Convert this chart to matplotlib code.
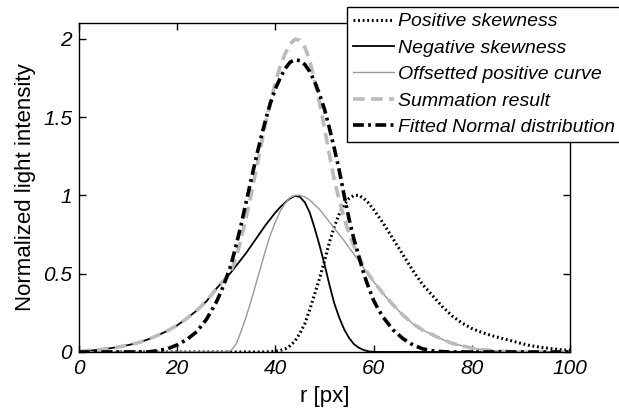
import numpy as np
import matplotlib.pyplot as plt

plt.rcParams['font.family'] = ['Liberation Sans', 'DejaVu Sans']

# =========================
# Datos
# =========================
r = [0, 2, 4, 6, 8, 10, 12, 14, 16, 18, 20, 22, 24, 26,
     28, 29, 30, 31, 32, 33, 34, 35, 36, 37, 38, 39, 40, 41, 42, 43, 44, 45,
     46, 47, 48, 49, 50, 51, 52, 53, 54, 55, 56, 57, 58, 59, 60, 61, 62,
     64, 66, 68, 70, 72, 74, 76, 78, 80, 82, 84, 86, 88, 90, 92, 94, 96, 98, 100]

pos_skew = [0, 0, 0, 0, 0, 0, 0, 0, 0, 0, 0, 0, 0, 0,
            0, 0, 0, 0, 0, 0, 0, 0, 0, 0, 0, 0.002, 0.005, 0.01, 0.02, 0.04, 0.07, 0.12,
            0.18, 0.27, 0.37, 0.47, 0.58, 0.70, 0.80, 0.88, 0.94, 0.98, 1.0, 1.0, 0.98, 0.95, 0.91, 0.865, 0.82,
            0.72, 0.62, 0.52, 0.43, 0.36, 0.29, 0.23, 0.185, 0.15, 0.125, 0.105, 0.088, 0.072, 0.055, 0.04, 0.03, 0.022, 0.015, 0.01]

neg_skew = [0.004, 0.008, 0.014, 0.022, 0.032, 0.044, 0.058, 0.08, 0.105, 0.135, 0.17, 0.215, 0.265, 0.325,
            0.405, 0.44, 0.475, 0.51, 0.55, 0.59, 0.63, 0.675, 0.72, 0.765, 0.81, 0.85, 0.89, 0.925, 0.955, 0.98, 0.997, 0.99,
            0.955, 0.89, 0.79, 0.68, 0.56, 0.43, 0.31, 0.22, 0.145, 0.09, 0.05, 0.027, 0.012, 0.004, 0.001, 0, 0,
            0, 0, 0, 0, 0, 0, 0, 0, 0, 0, 0, 0, 0, 0, 0, 0, 0, 0, 0]

offset_pos = [0, 0, 0, 0, 0, 0, 0, 0, 0, 0, 0, 0, 0, 0,
              0, 0, 0, 0.01, 0.05, 0.13, 0.22, 0.32, 0.43, 0.54, 0.65, 0.75, 0.83, 0.90, 0.95, 0.985, 1.0, 1.0,
              0.99, 0.97, 0.94, 0.91, 0.87, 0.83, 0.79, 0.75, 0.71, 0.665, 0.625, 0.58, 0.535, 0.49, 0.45, 0.41, 0.37,
              0.30, 0.235, 0.18, 0.14, 0.11, 0.08, 0.055, 0.04, 0.025, 0.015, 0.009, 0.005, 0.003, 0, 0, 0, 0, 0, 0]

summation = [0.004, 0.008, 0.014, 0.022, 0.032, 0.044, 0.058, 0.08, 0.105, 0.135, 0.17, 0.215, 0.265, 0.325,
             0.405, 0.44, 0.475, 0.52, 0.60, 0.72, 0.85, 0.995, 1.15, 1.305, 1.46, 1.60, 1.72, 1.825, 1.905, 1.965, 1.997, 1.99,
             1.945, 1.86, 1.73, 1.59, 1.43, 1.26, 1.10, 0.97, 0.855, 0.755, 0.675, 0.607, 0.547, 0.494, 0.451, 0.41, 0.37,
             0.30, 0.235, 0.18, 0.14, 0.11, 0.08, 0.055, 0.04, 0.025, 0.015, 0.009, 0.005, 0.003, 0, 0, 0, 0, 0, 0]

fitted = [0, 0, 0, 0, 0, 0, 0, 0, 0.008, 0.02, 0.045, 0.08, 0.13, 0.21,
          0.32, 0.39, 0.47, 0.56, 0.68, 0.81, 0.95, 1.09, 1.23, 1.36, 1.48, 1.59, 1.68, 1.75, 1.81, 1.85, 1.865, 1.86,
          1.835, 1.79, 1.725, 1.645, 1.55, 1.43, 1.30, 1.16, 1.00, 0.85, 0.72, 0.61, 0.50, 0.41, 0.33, 0.27, 0.22,
          0.14, 0.085, 0.045, 0.02, 0.008, 0.002, 0, 0, 0, 0, 0, 0, 0, 0, 0, 0, 0, 0, 0]

# =========================
# Figura
# =========================
fig = plt.figure(figsize=(6.19, 4.11), dpi=100)
ax = fig.add_axes([0.1276, 0.1436, 0.7932, 0.8004])

ax.plot(r, pos_skew, color='black', linestyle=(0, (0.6, 0.9)), linewidth=2.2,
        label='Positive skewness')
ax.plot(r, neg_skew, color='black', linewidth=1.3, label='Negative skewness')
ax.plot(r, offset_pos, color='#999999', linewidth=1.0, label='Offsetted positive curve')
ax.plot(r, summation, color='#bbbbbb', linestyle=(0, (3.2, 1.8)), linewidth=2.6,
        label='Summation result')
ax.plot(r, fitted, color='black', linestyle=(0, (3.0, 1.2, 0.8, 1.2)), linewidth=2.6,
        label='Fitted Normal distribution')

ax.set_xlim(0, 100)
ax.set_ylim(0, 2.1)
ax.set_xticks([0, 20, 40, 60, 80, 100])
ax.set_yticks([0, 0.5, 1, 1.5, 2])
ax.set_xticklabels(['0', '20', '40', '60', '80', '100'], fontstyle='italic')
ax.set_yticklabels(['0', '0.5', '1', '1.5', '2'], fontstyle='italic')
ax.tick_params(direction='in', top=True, right=True, labelsize=15, length=5, width=1, pad=5)
for s in ax.spines.values():
    s.set_linewidth(1.0)

ax.set_xlabel('r [px]', fontsize=16, labelpad=6)
ax.set_ylabel('Normalized light intensity', fontsize=16, labelpad=5)

leg = fig.legend(loc='upper left', bbox_to_anchor=(347 / 619, 1 - 7 / 411),
                 prop={'style': 'italic', 'size': 14}, frameon=True, fancybox=False,
                 handlelength=2.1, handletextpad=0.2, labelspacing=0.45,
                 borderpad=0.3, borderaxespad=0)
leg.get_frame().set_edgecolor('black')
leg.get_frame().set_linewidth(1.0)
leg.get_frame().set_alpha(1)

fig.savefig('out.png', dpi=100)
